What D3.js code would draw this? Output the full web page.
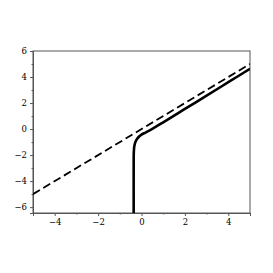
<!DOCTYPE html>
<html>
<head>
<meta charset="utf-8">
<script src="https://cdn.jsdelivr.net/npm/d3@7"></script>
<style>
  body { margin: 0; background: #fff; }
  svg { display: block; }
  text { font-family: "DejaVu Serif", "Liberation Serif", serif; font-size: 8.5px; fill: #000; }
</style>
</head>
<body>
<script>
// values
const xTicks = [-4, -2, 0, 2, 4]
const yTicks = [-6, -4, -2, 0, 2, 4, 6]
const xMinor = [-3, -1, 1, 3]
const yMinor = [-5, -3, -1, 1, 3, 5]
const xDomain = [-5, 5]
const yDomain = [-6.45, 6]

// dashed asymptote
const dashX = [-5, 5]
const dashY = [-5, 5]

// solid curve
const solidX = [-0.36, -0.36, -0.355, -0.33, -0.28, -0.2, -0.1, 0.0, 0.2, 0.5, 1, 2, 3, 4, 5]
const solidY = [-6.45, -2.5, -1.8, -1.3, -1.0, -0.75, -0.55, -0.42, -0.25, 0.02, 0.52, 1.55, 2.57, 3.6, 4.63]

const W = 273, H = 273
const margin = {top: 51, right: 23, bottom: 60, left: 33}

const svg = d3.select("body").append("svg")
    .attr("width", W)
    .attr("height", H)

const x = d3.scaleLinear().domain(xDomain).range([margin.left, W - margin.right])
const y = d3.scaleLinear().domain(yDomain).range([H - margin.bottom, margin.top])

const axisCol = "#555"

// frame (top/right)
svg.append("rect")
    .attr("x", x(xDomain[0])).attr("y", y(yDomain[1]))
    .attr("width", x(xDomain[1]) - x(xDomain[0]))
    .attr("height", y(yDomain[0]) - y(yDomain[1]))
    .attr("fill", "none").attr("stroke", axisCol).attr("stroke-width", 1)

const fmt = d => d < 0 ? "\u2212" + Math.abs(d) : "" + d

const gx = svg.append("g")
    .attr("transform", `translate(0,${y(yDomain[0])})`)
    .call(d3.axisBottom(x).tickValues(xTicks).tickSize(3).tickPadding(3).tickFormat(fmt))
const gxm = svg.append("g")
    .attr("transform", `translate(0,${y(yDomain[0])})`)
    .call(d3.axisBottom(x).tickValues(xMinor).tickSize(1.5).tickFormat(""))

const gy = svg.append("g")
    .attr("transform", `translate(${x(xDomain[0])},0)`)
    .call(d3.axisLeft(y).tickValues(yTicks).tickSize(3).tickPadding(3).tickFormat(fmt))
const gym = svg.append("g")
    .attr("transform", `translate(${x(xDomain[0])},0)`)
    .call(d3.axisLeft(y).tickValues(yMinor).tickSize(1.5).tickFormat(""))

for (const g of [gx, gxm, gy, gym]) {
    g.select(".domain").attr("stroke", axisCol)
    g.selectAll(".tick line").attr("stroke", axisCol)
    g.selectAll("text").attr("font-family", null).attr("font-size", null)
}

const clip = svg.append("clipPath").attr("id", "clip").append("rect")
    .attr("x", x(xDomain[0])).attr("y", y(yDomain[1]))
    .attr("width", x(xDomain[1]) - x(xDomain[0]))
    .attr("height", y(yDomain[0]) - y(yDomain[1]))

const line = d3.line().x(d => x(d[0])).y(d => y(d[1])).curve(d3.curveCatmullRom)

svg.append("path")
    .datum(dashX.map((v, i) => [v, dashY[i]]))
    .attr("d", line)
    .attr("fill", "none").attr("stroke", "#000")
    .attr("stroke-width", 1.8).attr("stroke-dasharray", "8,4")
    .attr("clip-path", "url(#clip)")

svg.append("path")
    .datum(solidX.map((v, i) => [v, solidY[i]]))
    .attr("d", line)
    .attr("fill", "none").attr("stroke", "#000")
    .attr("stroke-width", 2.6)
    .attr("clip-path", "url(#clip)")
</script>
</body>
</html>
